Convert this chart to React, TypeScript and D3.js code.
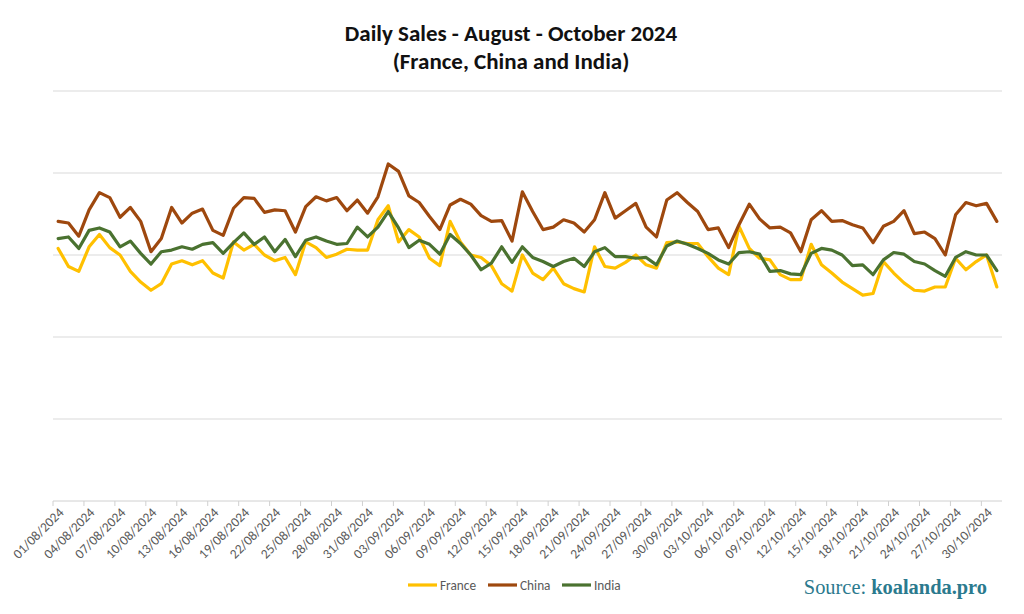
import React from 'react';
import * as d3 from 'd3';

// days from 01/08/2024 to 31/10/2024
const days = d3.timeDay.range(new Date(2024, 7, 1), new Date(2024, 10, 1));
const fmt = d3.timeFormat('%d/%m/%Y');
const dayLabels = days.map(d => fmt(d));

const france = [
  308, 286, 280, 310, 325, 309, 300, 280, 267, 257, 265, 289, 293, 288, 293, 278, 272, 316, 306, 313, 300, 293, 297,
  276, 316, 309, 297, 301, 307, 306, 306, 343, 360, 316, 331, 322, 296, 287, 341, 316, 300, 297, 287, 265, 256, 300,
  278, 270, 284, 265, 259, 255, 310, 286, 284, 291, 300, 288, 284, 315, 316, 314, 314, 298, 284, 276, 335, 308, 296,
  294, 276, 270, 270, 313, 288, 278, 267, 259, 251, 253, 292, 278, 266, 257, 256, 261, 261, 296, 282, 292, 300, 261
];

const china = [
  341, 339, 323, 355, 376, 370, 346, 358, 341, 304, 320, 358, 339, 351, 356, 330, 324, 357, 370, 369, 352, 355, 354,
  328, 359, 371, 366, 370, 354, 367, 351, 371, 411, 402, 372, 364, 347, 331, 361, 368, 362, 348, 341, 342, 317, 377,
  353, 331, 334, 343, 339, 328, 343, 376, 345, 354, 363, 334, 322, 367, 376, 364, 353, 331, 333, 309, 337, 362, 344,
  333, 334, 327, 304, 343, 354, 341, 342, 337, 333, 315, 335, 341, 354, 326, 328, 320, 300, 349, 364, 360, 363, 341
];

const india = [
  320, 322, 308, 330, 333, 328, 310, 317, 302, 289, 304, 306, 310, 307, 313, 315, 302, 315, 327, 313, 322, 304, 319,
  298, 318, 322, 317, 313, 314, 334, 322, 334, 353, 333, 309, 318, 313, 301, 325, 314, 300, 282, 290, 310, 291, 310,
  297, 292, 286, 292, 296, 286, 304, 309, 298, 298, 296, 297, 288, 311, 317, 313, 308, 302, 294, 289, 303, 304, 301,
  280, 281, 277, 276, 302, 308, 306, 300, 287, 288, 276, 294, 303, 301, 292, 289, 281, 274, 297, 304, 300, 300, 281
];

const seriesNames = ['France', 'China', 'India'];
const seriesColors = ['#FFC000', '#9E480E', '#4A7230'];
const yTicks = [0, 100, 200, 300, 400, 500];

const W = 1024;
const H = 614;
const margin = { left: 53, right: 22, top: 91, bottom: 113 };

export default function App() {
  const x = d3.scaleBand<string>()
    .domain(dayLabels)
    .range([margin.left, W - margin.right])
    .paddingInner(0)
    .paddingOuter(0);
  const y = d3.scaleLinear().domain([0, 500]).range([H - margin.bottom, margin.top]);
  const half = x.bandwidth() / 2;

  const allSeries = [france, china, india];
  const line = d3.line<number>()
    .x((_, i) => (x(dayLabels[i]) as number) + half)
    .y(d => y(d));

  const tickIdx = dayLabels.map((_, i) => i).filter(i => i % 3 === 0);
  const axisY = y(0);
  const font = 'Carlito, Calibri, "Open Sans", sans-serif';

  const legendX = [408, 488, 562];

  return (
    <svg width={W} height={H} style={{ display: 'block', position: 'absolute', left: 0, top: 0, background: '#fff' }}>
      <rect width={W} height={H} fill="#fff" />
      <text x={511} y={41} textAnchor="middle" fontFamily={font} fontWeight={700} fontSize={23} fill="#111">
        Daily Sales - August - October 2024
      </text>
      <text x={511} y={69} textAnchor="middle" fontFamily={font} fontWeight={700} fontSize={23} fill="#111">
        (France, China and India)
      </text>

      {yTicks.filter(t => t > 0).map(t => (
        <line key={t} x1={margin.left} x2={W - margin.right} y1={y(t)} y2={y(t)} stroke="#d9d9d9" strokeWidth={1} />
      ))}

      <line x1={margin.left} x2={W - margin.right} y1={axisY} y2={axisY} stroke="#d0d0d0" strokeWidth={1} />
      {tickIdx.map(i => (
        <line key={'t' + i} x1={x(dayLabels[i])} x2={x(dayLabels[i])} y1={axisY} y2={axisY + 5} stroke="#d0d0d0" strokeWidth={1} />
      ))}
      {tickIdx.map(i => {
        const cx = (x(dayLabels[i]) as number) + half + 3;
        const cy = axisY + 9;
        return (
          <text key={'l' + i} transform={`translate(${cx},${cy}) rotate(-45)`} textAnchor="end" dy="0.35em"
            fontFamily={font} fontSize={13.5} fill="#595959">
            {dayLabels[i]}
          </text>
        );
      })}

      {allSeries.map((s, k) => (
        <path key={seriesNames[k]} d={line(s) || ''} fill="none" stroke={seriesColors[k]} strokeWidth={3.2}
          strokeLinejoin="round" strokeLinecap="round" />
      ))}

      {seriesNames.map((n, k) => (
        <g key={'lg' + n} transform={`translate(${legendX[k]},585)`}>
          <line x1={0} x2={29} y1={0} y2={0} stroke={seriesColors[k]} strokeWidth={3.2} />
          <text x={32} y={0} dy="0.35em" fontFamily={font} fontSize={13.3} fill="#595959">{n}</text>
        </g>
      ))}

      <text x={987} y={594} textAnchor="end" fontFamily='"Liberation Serif", "DejaVu Serif", serif' fontSize={20.4} fill="#2B7A8E">
        Source: <tspan fontWeight={700}>koalanda.pro</tspan>
      </text>
    </svg>
  );
}
